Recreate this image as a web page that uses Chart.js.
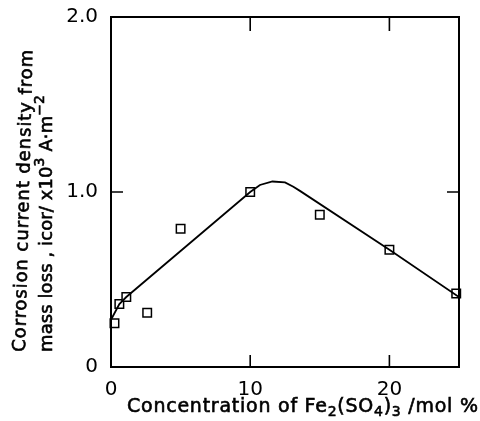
<!DOCTYPE html>
<html>
<head>
<meta charset="utf-8">
<script src="https://cdn.jsdelivr.net/npm/chart.js@4/dist/chart.umd.min.js"></script>
<style>
  html, body { margin: 0; padding: 0; background: #fff; }
  #wrap { width: 480px; height: 421px; }
</style>
</head>
<body>
<div id="wrap"><canvas id="c"></canvas></div>
<script>
// measured points
const concX = [0.25, 0.6, 1.1, 2.6, 5.0, 10.0, 15.0, 20.0, 24.8];
const icorY = [0.25, 0.36, 0.40, 0.31, 0.79, 1.00, 0.87, 0.67, 0.42];

// hand drawn fit curve
const curveX = [0, 0.6, 1.1, 10.0, 10.7, 11.6, 12.5, 13.1, 13.6, 20.0, 25.0];
const curveY = [0.27, 0.36, 0.40, 1.00, 1.04, 1.06, 1.055, 1.03, 1.005, 0.67, 0.40];

const xTickLabels = [0, 10, 20];
const yTickLabels = [0, 1.0, 2.0];
const xTickMarks = [10, 20];
const yTickMarks = [1.0];

// axis titles, split where the text goes sub/superscript
const xTitle = [['Concentration of Fe', 'n'], ['2', 'sub'], ['(SO', 'n'], ['4', 'sub'], [')', 'n'], ['3', 'sub'], [' /mol %', 'n']];
const yTitle1 = [['Corrosion current density from', 'n']];
const yTitle2 = [['mass loss , icor/ x10', 'n'], ['3', 'sup'], [' A\u00b7m', 'n'], ['\u22122', 'sup']];

const FONT = 'DejaVu Sans';

// draws text parts on one baseline, stretched to a given length
function drawRich(ctx, parts, size, length) {
  const fontOf = (k) => `${k === 'n' ? size : Math.round(size * 0.75)}px "${FONT}"`;
  let raw = 0;
  let chars = 0;
  parts.forEach(([t, k]) => {
    ctx.font = fontOf(k);
    raw += ctx.measureText(t).width;
    chars += t.length;
  });
  const gap = length ? (length - raw) / (chars - 1) : 0;
  ctx.letterSpacing = `${gap}px`;
  ctx.lineWidth = 0.6;
  let x = 0;
  parts.forEach(([t, k]) => {
    ctx.font = fontOf(k);
    const dy = k === 'sub' ? size * 0.22 : k === 'sup' ? -size * 0.45 : 0;
    ctx.fillText(t, x, dy);
    ctx.strokeText(t, x, dy);
    x += ctx.measureText(t).width;
  });
  ctx.letterSpacing = '0px';
}

const frame = {
  id: 'frame',
  afterDraw(chart) {
    const {
      ctx,
      chartArea: { left, top, right, bottom },
      scales: { x, y },
    } = chart;
    ctx.save();
    ctx.strokeStyle = '#000';
    ctx.lineWidth = 2;
    ctx.strokeRect(left, top, right - left, bottom - top);
    ctx.lineWidth = 1.6;
    ctx.beginPath();
    xTickMarks.forEach((v) => {
      const px = x.getPixelForValue(v);
      ctx.moveTo(px, bottom);
      ctx.lineTo(px, bottom - 12);
      ctx.moveTo(px, top);
      ctx.lineTo(px, top + 14);
    });
    yTickMarks.forEach((v) => {
      const py = y.getPixelForValue(v);
      ctx.moveTo(left, py);
      ctx.lineTo(left + 12, py);
      ctx.moveTo(right, py);
      ctx.lineTo(right - 12, py);
    });
    ctx.stroke();

    // axis titles
    ctx.fillStyle = '#000';
    ctx.textAlign = 'left';
    ctx.textBaseline = 'alphabetic';

    ctx.save();
    ctx.translate(left + 16, bottom + 45);
    drawRich(ctx, xTitle, 19, 351);
    ctx.restore();

    ctx.save();
    ctx.translate(25, bottom - 15);
    ctx.rotate(-Math.PI / 2 + 0.025);
    drawRich(ctx, yTitle1, 18, 302);
    ctx.restore();

    ctx.save();
    ctx.translate(52, bottom - 15);
    ctx.rotate(-Math.PI / 2);
    drawRich(ctx, yTitle2, 18, 257);
    ctx.restore();

    ctx.restore();
  },
};

new Chart(document.getElementById('c'), {
  type: 'scatter',
  data: {
    datasets: [
      {
        data: curveX.map((v, i) => ({ x: v, y: curveY[i] })),
        showLine: true,
        borderColor: '#000',
        borderWidth: 1.8,
        pointRadius: 0,
        tension: 0,
      },
      {
        data: concX.map((v, i) => ({ x: v, y: icorY[i] })),
        pointStyle: 'rect',
        pointRadius: 6,
        pointBorderWidth: 1.5,
        pointBorderColor: '#000',
        pointBackgroundColor: '#fff',
        clip: false,
      },
    ],
  },
  options: {
    responsive: true,
    maintainAspectRatio: false,
    animation: false,
    events: [],
    layout: { padding: { left: 0, right: 21, top: 17, bottom: 0 } },
    scales: {
      x: {
        type: 'linear',
        min: 0,
        max: 25,
        border: { display: false },
        grid: { display: false },
        afterBuildTicks: (s) => {
          s.ticks = xTickLabels.map((v) => ({ value: v }));
        },
        afterFit: (s) => {
          s.height = 54;
        },
        ticks: {
          color: '#000',
          padding: 3,
          maxRotation: 0,
          font: { family: FONT, size: 20 },
          callback: (v) => String(v),
        },
      },
      y: {
        type: 'linear',
        min: 0,
        max: 2.0,
        border: { display: false },
        grid: { display: false },
        afterBuildTicks: (s) => {
          s.ticks = yTickLabels.map((v) => ({ value: v }));
        },
        afterFit: (s) => {
          s.width = 111;
        },
        ticks: {
          color: '#000',
          padding: 5,
          font: { family: FONT, size: 20 },
          callback: (v) => (v === 0 ? '0' : v.toFixed(1)),
        },
      },
    },
    plugins: {
      legend: { display: false },
      tooltip: { enabled: false },
    },
  },
  plugins: [frame],
});
</script>
</body>
</html>
